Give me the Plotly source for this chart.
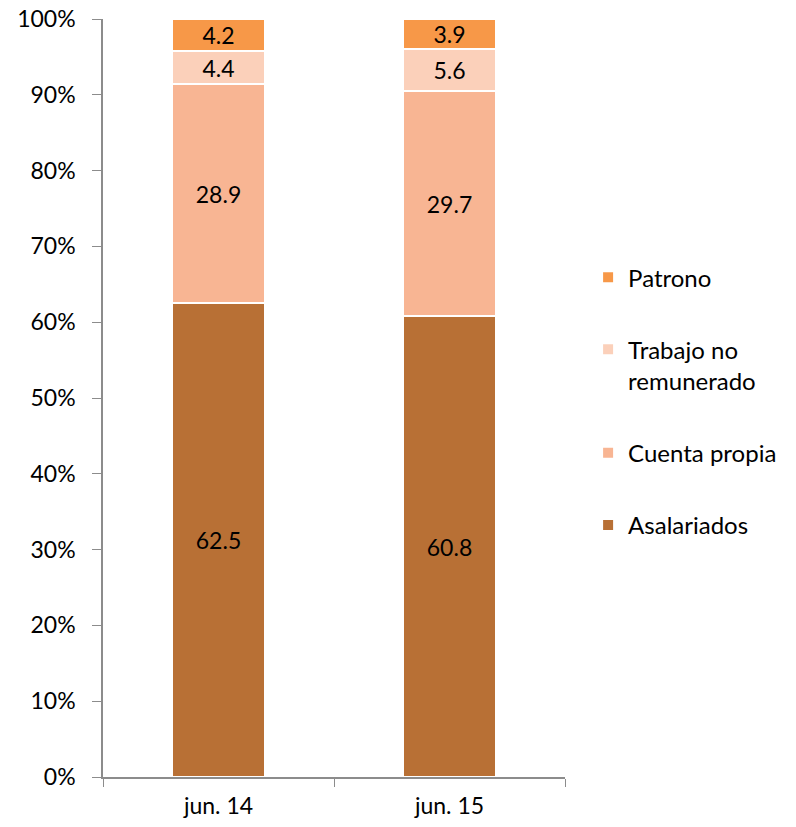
import plotly.graph_objects as go

categories = ["jun. 14", "jun. 15"]
series_names = ["Asalariados", "Cuenta propia", "Trabajo no<br>remunerado", "Patrono"]
asalariados = [62.5, 60.8]
cuenta_propia = [28.9, 29.7]
trabajo_no_remunerado = [4.4, 5.6]
patrono = [4.2, 3.9]
colors = ["#B87035", "#F8B593", "#FBD0BA", "#F79848"]

values = [asalariados, cuenta_propia, trabajo_no_remunerado, patrono]

fig = go.Figure()
for i, (name, vals, col) in enumerate(zip(series_names, values, colors)):
    fig.add_trace(go.Bar(
        x=categories, y=vals, name=name,
        marker=dict(color=col, line=dict(color="white", width=2)),
        text=[f"{v:.1f}" for v in vals],
        textposition="inside", insidetextanchor="middle", constraintext="none",
        textfont=dict(color="black", size=23, family="Lato"),
        width=0.4, legendgroup=str(i), legendrank=10 - i,
    ))

fig.update_layout(
    barmode="stack",
    width=796, height=827,
    margin=dict(l=103, r=231, t=19, b=50, autoexpand=False),
    paper_bgcolor="white", plot_bgcolor="white",
    font=dict(family="Lato", size=23, color="black"),
    showlegend=True,
    legend=dict(x=1.05, y=0.496, xanchor="left", yanchor="middle",
                traceorder="grouped", tracegroupgap=38, valign="top",
                font=dict(size=24), itemwidth=30),
    uniformtext=dict(mode=False),
)
fig.update_yaxes(range=[0, 100], dtick=10, ticksuffix="%", showgrid=False,
                 showline=True, linecolor="#8c8c8c", linewidth=1.5,
                 ticks="outside", ticklen=9, tickcolor="#8c8c8c", zeroline=False,
                 tickfont=dict(size=23), automargin=False, ticklabelstandoff=12,
                 ticklabeloverflow="allow")
fig.update_xaxes(range=[-0.5, 1.5], showline=True, linecolor="#8c8c8c", linewidth=1.5,
                 ticks="outside", tickson="boundaries", ticklen=8, tickcolor="#8c8c8c",
                 showgrid=False, tickfont=dict(size=23), automargin=False,
                 ticklabelstandoff=8, ticklabeloverflow="allow")

fig.write_html("out.html", config={"displayModeBar": False},
               post_script="document.body.style.margin='0';")
